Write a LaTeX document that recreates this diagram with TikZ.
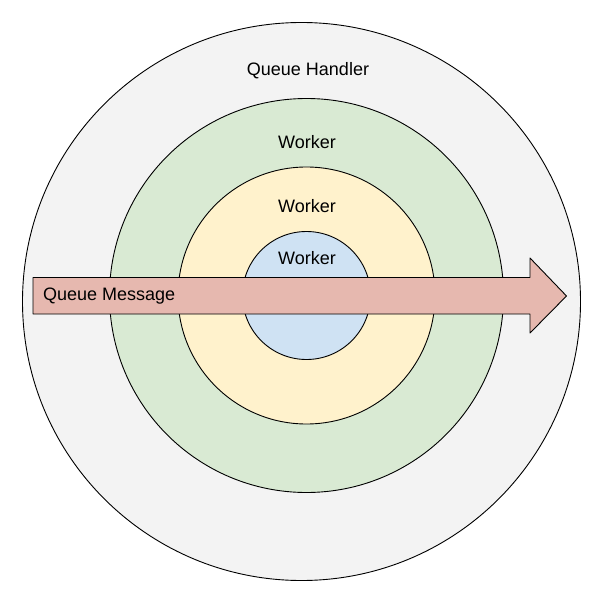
\documentclass[tikz,border=0pt]{standalone}
\usepackage{fontspec}
\setmainfont{Liberation Sans}
\usetikzlibrary{calc}

\definecolor{handlergray}{HTML}{F3F3F3}
\definecolor{workergreen}{HTML}{D9EAD3}
\definecolor{workeryellow}{HTML}{FFF2CC}
\definecolor{workerblue}{HTML}{CFE2F3}
\definecolor{msgred}{HTML}{E6B8AF}

\tikzset{
  ring/.style={draw=black, line width=0.9pt},
  lbl/.style={font=\fontsize{18}{20}\selectfont, inner sep=0pt}
}

\begin{document}
\begin{tikzpicture}[line join=round, x=1pt, y=-1pt]
  \useasboundingbox (0,0) rectangle (603,609);
  \coordinate (outer) at (301.5,301.5);
  \coordinate (core) at (306.5,295.5);
  \draw[ring, fill=handlergray] (outer) circle (279);
  \draw[ring, fill=workergreen] (core) circle (197);
  \draw[ring, fill=workeryellow] (core) circle (128.5);
  \draw[ring, fill=workerblue] (core) circle (64);
  % message arrow
  \draw[ring, fill=msgred] (33,277.5) -- (530,277.5) -- (530,258) -- (566.5,296)
    -- (530,333) -- (530,314) -- (33,314) -- cycle;
  \node[lbl] (handler) at (308,71) {Queue Handler};
  \node[lbl] (worker1) at (307,142) {Worker};
  \node[lbl] (worker2) at (307,206) {Worker};
  \node[lbl] (worker3) at (307,258) {Worker};
  \node[lbl, anchor=west] (message) at (43,296.5) {Queue Message};
\end{tikzpicture}
\end{document}
